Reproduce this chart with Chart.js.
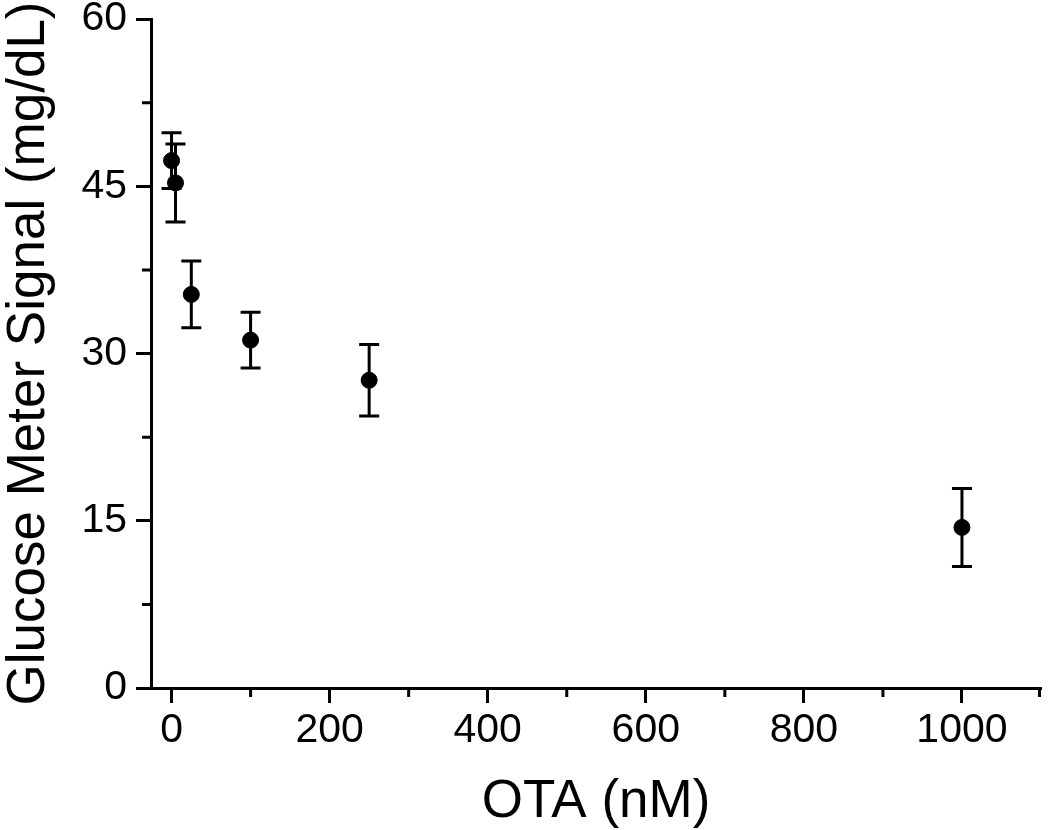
<!DOCTYPE html>
<html>
<head>
<meta charset="utf-8">
<script src="https://cdn.jsdelivr.net/npm/chart.js@4"></script>
<style>
html,body{margin:0;padding:0;background:#fff;}
#c{display:block;}
</style>
</head>
<body>
<canvas id="c" width="1050" height="830"></canvas>
<script>
const xValues = [0, 5, 25, 100, 250, 1000];
const yValues = [47.3, 45.3, 35.3, 31.2, 27.6, 14.4];
const yErrors = [2.5, 3.5, 3.0, 2.5, 3.2, 3.5];
const xMajorTicks = [0, 200, 400, 600, 800, 1000];
const xMinorTicks = [100, 300, 500, 700, 900, 1100];
const yMajorTicks = [0, 15, 30, 45, 60];
const yMinorTicks = [7.5, 22.5, 37.5, 52.5];
const xTitle = 'OTA (nM)';
const yTitle = 'Glucose Meter Signal (mg/dL)';

const FONT = '"Liberation Sans", Arial, Helvetica, sans-serif';

const points = xValues.map((x, i) => ({x: x, y: yValues[i]}));

const errorBarPlugin = {
  id: 'errorBars',
  beforeDatasetsDraw(chart) {
    const ctx = chart.ctx;
    const xs = chart.scales.x, ys = chart.scales.y;
    ctx.save();
    ctx.strokeStyle = '#000';
    ctx.lineWidth = 3;
    xValues.forEach((x, i) => {
      const px = xs.getPixelForValue(x);
      const top = ys.getPixelForValue(yValues[i] + yErrors[i]);
      const bot = ys.getPixelForValue(yValues[i] - yErrors[i]);
      ctx.beginPath();
      ctx.moveTo(px, top); ctx.lineTo(px, bot);
      ctx.moveTo(px - 10, top); ctx.lineTo(px + 10, top);
      ctx.moveTo(px - 10, bot); ctx.lineTo(px + 10, bot);
      ctx.stroke();
    });
    ctx.restore();
  },
  afterDraw(chart) {
    const ctx = chart.ctx;
    const xs = chart.scales.x, ys = chart.scales.y;
    const area = chart.chartArea;
    ctx.save();
    ctx.strokeStyle = '#000';
    ctx.lineWidth = 3;
    ctx.beginPath();
    xMinorTicks.forEach(v => {
      const px = Math.min(xs.getPixelForValue(v), area.right - 1.5);
      ctx.moveTo(px, area.bottom); ctx.lineTo(px, area.bottom + 9);
    });
    yMinorTicks.forEach(v => {
      const py = ys.getPixelForValue(v);
      ctx.moveTo(area.left, py); ctx.lineTo(area.left - 9, py);
    });
    ctx.stroke();
    ctx.restore();
  }
};

new Chart(document.getElementById('c'), {
  type: 'scatter',
  data: {
    datasets: [{
      data: points,
      backgroundColor: '#000',
      borderColor: '#000',
      pointRadius: 8,
      pointHoverRadius: 8,
      showLine: false
    }]
  },
  options: {
    responsive: false,
    animation: false,
    devicePixelRatio: 1,
    layout: {padding: {top: 19, right: 2, left: 0, bottom: 0}},
    plugins: {legend: {display: false}, tooltip: {enabled: false}},
    scales: {
      x: {
        type: 'linear',
        min: -26,
        max: 1100,
        afterBuildTicks: s => { s.ticks = xMajorTicks.map(v => ({value: v})); },
        afterFit: s => { s.height = 142; s.paddingLeft = 0; s.paddingRight = 0; },
        border: {display: true, color: '#000', width: 3},
        grid: {display: true, drawOnChartArea: false, tickLength: 15, tickWidth: 3, tickColor: '#000'},
        ticks: {
          autoSkip: false, maxRotation: 0, padding: 3, color: '#000',
          font: {family: FONT, size: 41},
          callback: v => String(v)
        },
        title: {display: true, text: xTitle, color: '#000', font: {family: FONT, size: 53, lineHeight: 1.04}, padding: 0}
      },
      y: {
        type: 'linear',
        min: 0,
        max: 60,
        afterBuildTicks: s => { s.ticks = yMajorTicks.map(v => ({value: v})); },
        afterFit: s => { s.width = 151; s.paddingTop = 0; s.paddingBottom = 0; },
        border: {display: true, color: '#000', width: 3},
        grid: {display: true, drawOnChartArea: false, tickLength: 15, tickWidth: 3, tickColor: '#000'},
        ticks: {
          autoSkip: false, padding: 9, color: '#000',
          font: {family: FONT, size: 41},
          callback: v => String(v)
        },
        title: {display: true, text: yTitle, color: '#000', font: {family: FONT, size: 53, lineHeight: 1.1}, padding: 0}
      }
    }
  },
  plugins: [errorBarPlugin]
});
</script>
</body>
</html>
